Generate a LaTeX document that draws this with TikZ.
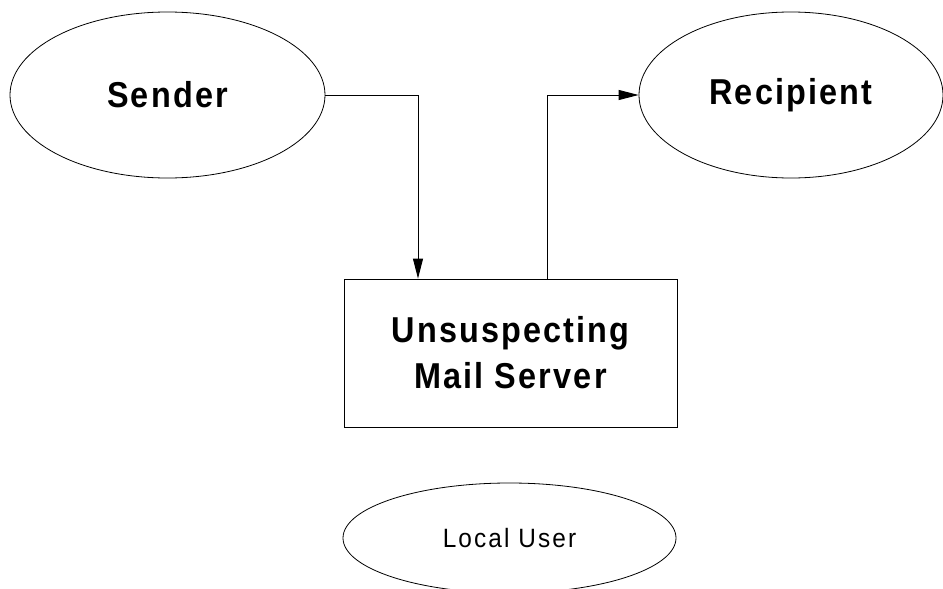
\documentclass[tikz,border=0pt]{standalone}
\usepackage{fontspec}
\setmainfont{Liberation Sans}
\usetikzlibrary{shapes.geometric,arrows.meta}
\newfontfamily\boldlab[FakeStretch=0.9,LetterSpace=6]{Liberation Sans Bold}
\newfontfamily\reglab[FakeStretch=0.92,LetterSpace=8]{Liberation Sans}
\tikzset{
  oval/.style={ellipse, draw=black, line width=0.8pt, inner sep=0pt},
  srvbox/.style={rectangle, draw=black, line width=0.8pt, inner sep=0pt, align=center},
  bigtxt/.style={font=\boldlab\fontsize{36}{46}\selectfont},
  smalltxt/.style={font=\reglab\fontsize{26.5}{32}\selectfont},
  arr/.style={line width=0.9pt, -{Triangle[length=20pt,width=10pt]}}
}
\begin{document}
\begin{tikzpicture}[x=1pt,y=-1pt]
\useasboundingbox (0,0) rectangle (943,589);
\clip (0,0) rectangle (943,589);
\node[oval, bigtxt, minimum width=315pt, minimum height=166pt] (sender) at (167.5,95) {Sender};
\node[oval, bigtxt, minimum width=304pt, minimum height=166pt] (recip) at (791,95) {Recipient};
\node[srvbox, bigtxt, minimum width=333pt, minimum height=148pt] (server) at (510.5,353) {Unsuspecting\\Mail Server};
\node[oval, smalltxt, minimum width=333pt, minimum height=110pt] (local) at (509.5,538) {Local User};
\coordinate (k1) at (418,95);
\coordinate (k2) at (547,95);
\draw[arr] (sender.east) -- (k1) -- (k1 |- server.north);
\draw[arr] (k2 |- server.north) -- (k2) -- (recip.west);
\end{tikzpicture}
\end{document}
